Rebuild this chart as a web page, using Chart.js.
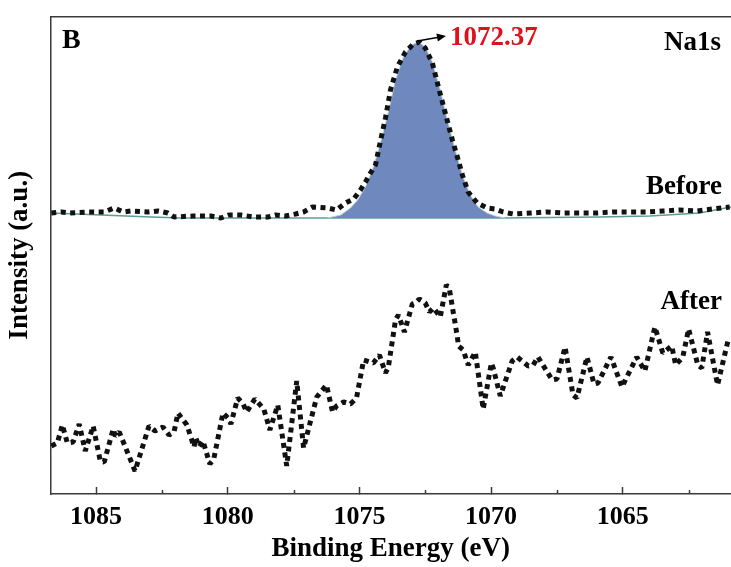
<!DOCTYPE html>
<html>
<head>
<meta charset="utf-8">
<script src="https://cdn.jsdelivr.net/npm/chart.js@4.4.0/dist/chart.umd.min.js"></script>
<style>
  body { margin: 0; background: #fff; }
</style>
</head>
<body>
<canvas id="myChart" width="731" height="567"></canvas>
<script>
// Na1s spectrum, before cycling (raw points)
const beforeEnergy = [1086.70, 1086.32, 1086.02, 1085.30, 1084.69, 1084.31, 1083.97, 1083.67, 1083.03, 1082.65,
  1082.27, 1082.04, 1081.32, 1080.64, 1080.26, 1079.96, 1079.50, 1079.01, 1078.48, 1078.18,
  1077.80, 1077.42, 1077.12, 1076.78, 1076.21, 1075.87, 1075.53, 1075.22, 1074.96, 1074.77,
  1074.58, 1074.39, 1074.20, 1074.01, 1073.82, 1073.56, 1073.25, 1072.95, 1072.72, 1072.50,
  1072.23, 1072.00, 1071.74, 1071.47, 1071.28, 1071.09, 1070.87, 1070.53, 1070.15, 1069.84,
  1069.54, 1069.16, 1068.52, 1067.87, 1067.27, 1066.62, 1066.00, 1065.37, 1064.73, 1064.09,
  1063.48, 1062.84, 1062.19, 1061.59, 1060.94];
const beforeIntensity = [279, 280, 279, 280, 280, 284, 280, 281, 280, 281,
  279, 275, 276, 276, 274, 277, 277, 275, 275, 277,
  276, 278, 280, 285, 284, 282, 289, 293, 302, 310,
  319, 327, 351, 374, 402, 425, 440, 448, 450, 444,
  429, 405, 379, 352, 335, 317, 300, 289, 284, 283,
  280, 278, 279, 280, 279, 279, 279, 280, 280, 280,
  281, 282, 281, 283, 285];

// fitted peak (blue area) and its background
const fitEnergy = [1076.21, 1075.71, 1075.34, 1075.07, 1074.77, 1074.47, 1074.20, 1073.90, 1073.63, 1073.33,
  1073.03, 1072.76, 1072.50, 1072.23, 1071.93, 1071.66, 1071.36, 1071.09, 1070.79, 1070.49,
  1070.15, 1069.84, 1069.47];
const fitIntensity = [274, 277, 284, 292, 305, 325, 349, 380, 412, 435,
  447, 450, 445, 430, 402, 372, 342, 317, 297, 285,
  279, 276, 274];
const baselineEnergy = [1086.73, 1084.81, 1082.91, 1081.78, 1077.23, 1069.65, 1065.87, 1063.97, 1062.08, 1060.89];
const baselineIntensity = [279, 277, 275, 274, 274, 274, 275, 276, 279, 285];

// Na1s spectrum, after cycling
const afterEnergy = [1086.70, 1086.47, 1086.28, 1086.09, 1085.87, 1085.64, 1085.41, 1085.11, 1084.84, 1084.69,
  1084.35, 1084.27, 1084.12, 1083.52, 1082.99, 1082.76, 1082.46, 1082.23, 1082.04, 1081.89,
  1081.55, 1081.28, 1081.21, 1081.09, 1080.94, 1080.68, 1080.53, 1080.18, 1079.99, 1079.88,
  1079.62, 1079.43, 1079.28, 1078.97, 1078.63, 1078.40, 1078.10, 1077.76, 1077.38, 1077.12,
  1076.62, 1076.25, 1076.02, 1075.87, 1075.60, 1075.34, 1075.11, 1074.84, 1074.47, 1074.24,
  1074.01, 1073.90, 1073.63, 1073.52, 1073.29, 1072.99, 1072.87, 1072.72, 1072.50, 1072.34,
  1072.19, 1071.93, 1071.70, 1071.59, 1071.28, 1071.24, 1071.06, 1070.87, 1070.60, 1070.30,
  1069.99, 1069.92, 1069.65, 1069.20, 1069.01, 1068.59, 1068.40, 1068.22, 1067.68, 1067.50,
  1067.19, 1066.89, 1066.74, 1066.36, 1066.09, 1065.94, 1065.45, 1065.03, 1064.47, 1064.16,
  1063.78, 1063.48, 1063.14, 1062.99, 1062.72, 1062.50, 1062.15, 1062.00, 1061.78, 1061.40,
  1060.98];
const afterIntensity = [46, 49, 67, 49, 50, 68, 41, 66, 31, 30,
  63, 56, 60, 21, 66, 61, 65, 57, 60, 79,
  67, 45, 54, 45, 51, 28, 33, 79, 74, 68,
  94, 89, 80, 93, 83, 62, 87, 26, 111, 44,
  95, 107, 80, 86, 90, 88, 94, 132, 129, 137,
  119, 125, 172, 177, 160, 188, 189, 193, 189, 180,
  184, 175, 207, 204, 155, 146, 142, 127, 140, 83,
  129, 124, 96, 131, 135, 126, 127, 135, 112, 113,
  145, 97, 94, 135, 108, 109, 135, 105, 135, 121,
  165, 139, 146, 127, 135, 163, 127, 124, 160, 107,
  154];

const xTicks = [1085, 1080, 1075, 1070, 1065];
const xMinorTicks = [1082.5, 1077.5, 1072.5, 1067.5, 1062.5];
const xMin = 1060.89, xMax = 1086.73;
const yMin = -2, yMax = 475.5;
const peakEnergy = 1072.72, peakIntensity = 450;
const peakLabel = '1072.37';

function pairs(xs, ys) {
  return xs.map((x, i) => ({ x: x, y: ys[i] }));
}

const serif = '"Liberation Serif", "Times New Roman", serif';
const frameColor = '#3a3a3a';

// labels, arrow and the small minor ticks
const annotations = {
  id: 'annotations',
  afterDraw(chart) {
    const ctx = chart.ctx;
    const area = chart.chartArea;
    const xs = chart.scales.x, ys = chart.scales.y;
    ctx.save();
    ctx.strokeStyle = frameColor;
    ctx.lineWidth = 1.5;
    xMinorTicks.forEach(v => {
      const px = Math.round(xs.getPixelForValue(v)) + 0.5;
      ctx.beginPath();
      ctx.moveTo(px, area.bottom);
      ctx.lineTo(px, area.bottom - 4);
      ctx.stroke();
    });

    ctx.fillStyle = '#000';
    ctx.textBaseline = 'alphabetic';
    ctx.font = 'bold 28px ' + serif;
    ctx.textAlign = 'left';
    ctx.fillText('B', 62, 48);
    ctx.font = 'bold 27px ' + serif;
    ctx.textAlign = 'right';
    ctx.fillText('Na1s', 721, 50);
    ctx.fillText('Before', 722, 194);
    ctx.fillText('After', 722, 309);

    ctx.textAlign = 'left';
    ctx.fillStyle = '#e0101c';
    ctx.fillText(peakLabel, 450, 45);

    // arrow from the peak top to the label
    const x0 = xs.getPixelForValue(peakEnergy) - 2, y0 = ys.getPixelForValue(peakIntensity) - 1;
    const x1 = 446, y1 = 36;
    const ang = Math.atan2(y1 - y0, x1 - x0);
    ctx.strokeStyle = '#000';
    ctx.fillStyle = '#000';
    ctx.lineWidth = 1.5;
    ctx.beginPath();
    ctx.moveTo(x0, y0);
    ctx.lineTo(x1 - 6 * Math.cos(ang), y1 - 6 * Math.sin(ang));
    ctx.stroke();
    ctx.beginPath();
    ctx.moveTo(x1, y1);
    ctx.lineTo(x1 - 9 * Math.cos(ang) + 4 * Math.sin(ang), y1 - 9 * Math.sin(ang) - 4 * Math.cos(ang));
    ctx.lineTo(x1 - 9 * Math.cos(ang) - 4 * Math.sin(ang), y1 - 9 * Math.sin(ang) + 4 * Math.cos(ang));
    ctx.closePath();
    ctx.fill();
    ctx.restore();
  }
};

const ctx = document.getElementById('myChart');
const myChart = new Chart(ctx, {
  type: 'line',
  data: {
    datasets: [
      {
        label: 'Before',
        data: pairs(beforeEnergy, beforeIntensity),
        borderColor: '#111',
        borderWidth: 5,
        borderDash: [5, 4.5],
        borderJoinStyle: 'bevel',
        pointRadius: 0,
        fill: false
      },
      {
        label: 'After',
        data: pairs(afterEnergy, afterIntensity),
        borderColor: '#111',
        borderWidth: 5,
        borderDash: [5, 4.5],
        borderJoinStyle: 'bevel',
        pointRadius: 0,
        fill: false
      },
      {
        label: 'Fit',
        data: pairs(fitEnergy, fitIntensity),
        borderColor: '#b8d8d0',
        borderWidth: 1,
        backgroundColor: '#6f88be',
        pointRadius: 0,
        fill: 3
      },
      {
        label: 'Background',
        data: pairs(baselineEnergy, baselineIntensity),
        borderColor: '#5e9d90',
        borderWidth: 1.5,
        pointRadius: 0,
        fill: false
      }
    ]
  },
  options: {
    responsive: false,
    animation: false,
    devicePixelRatio: 1,
    layout: { padding: 0 },
    plugins: {
      legend: { display: false },
      tooltip: { enabled: false }
    },
    scales: {
      x: {
        type: 'linear',
        position: 'bottom',
        reverse: true,
        min: xMin,
        max: xMax,
        afterBuildTicks: s => { s.ticks = xTicks.map(v => ({ value: v })); },
        ticks: {
          color: '#000',
          font: { family: serif, size: 26, weight: 'bold' },
          padding: 15,
          maxRotation: 0,
          autoSkip: false,
          callback: v => String(v)
        },
        grid: {
          display: true,
          drawOnChartArea: false,
          drawTicks: true,
          tickLength: -7,
          tickColor: frameColor,
          tickWidth: 1.5
        },
        border: { display: true, color: frameColor, width: 1.5 },
        title: {
          display: true,
          text: 'Binding Energy (eV)',
          color: '#000',
          font: { family: serif, size: 27, weight: 'bold' },
          padding: { top: 0, bottom: 2 }
        },
        afterFit: s => { s.height = 73; }
      },
      x2: {
        type: 'linear',
        position: 'top',
        reverse: true,
        min: xMin,
        max: xMax,
        ticks: { display: false },
        grid: { display: false },
        border: { display: true, color: frameColor, width: 1.5 },
        afterFit: s => { s.height = 16.5; }
      },
      y: {
        type: 'linear',
        min: yMin,
        max: yMax,
        ticks: { display: false },
        grid: { display: false },
        border: { display: true, color: frameColor, width: 1.5 },
        title: {
          display: true,
          text: 'Intensity (a.u.)',
          color: '#000',
          font: { family: serif, size: 27, weight: 'bold' },
          padding: { top: 4, bottom: 0 }
        },
        afterFit: s => { s.width = 50.5; }
      }
    }
  },
  plugins: [annotations]
});
</script>
</body>
</html>
